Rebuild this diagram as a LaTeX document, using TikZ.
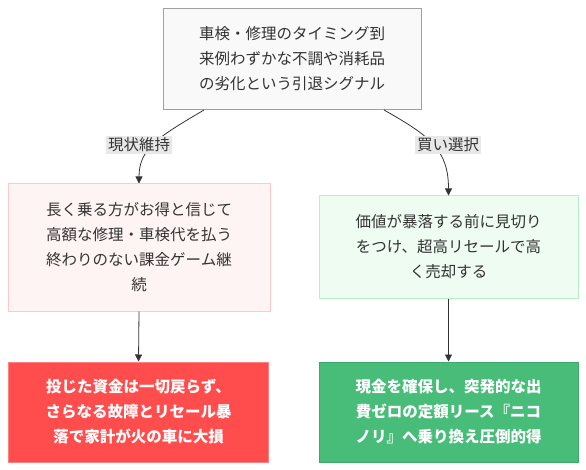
\documentclass[tikz,border=0pt]{standalone}
\usepackage{fontspec}
\setmainfont{Noto Sans CJK JP}
\usetikzlibrary{arrows.meta}
\definecolor{topfill}{HTML}{F9F9F9}
\definecolor{topline}{HTML}{A0A0A0}
\definecolor{pinkfill}{HTML}{FFF4F4}
\definecolor{pinkline}{HTML}{FFC9C9}
\definecolor{greenfill}{HTML}{EEFCF1}
\definecolor{greenline}{HTML}{B9F0C6}
\definecolor{redfill}{HTML}{FF4D4D}
\definecolor{redline}{HTML}{FF8080}
\definecolor{gfill}{HTML}{48BC79}
\definecolor{gline}{HTML}{3FA86B}
\definecolor{edgecol}{HTML}{333333}
\definecolor{txt}{HTML}{333333}
\definecolor{lblfill}{HTML}{E8E8E8}
\tikzset{
  box/.style={draw, line width=1pt, align=center, inner sep=0pt, text=txt,
    font=\fontsize{15.5}{25}\selectfont},
  edge/.style={draw=edgecol, line width=0.8pt, -{Triangle[length=7pt,width=7pt]}},
  lbl/.style={fill=lblfill, text=txt, inner sep=2pt, font=\fontsize{15.5}{18}\selectfont}
}
\begin{document}
\begin{tikzpicture}[x=1pt,y=-1pt]
\useasboundingbox (0,0) rectangle (586,470);
\node[box, fill=topfill, draw=topline, minimum width=258pt, minimum height=101pt] (top) at (292,59)
  {車検・修理のタイミング到\\来例わずかな不調や消耗品\\の劣化という引退シグナル};
\node[box, fill=pinkfill, draw=pinkline, minimum width=262pt, minimum height=127pt] (l1) at (139,247.5)
  {長く乗る方がお得と信じて\\高額な修理・車検代を払う\\終わりのない課金ゲーム継\\続};
\node[box, fill=greenfill, draw=greenline, minimum width=259pt, minimum height=102pt] (r1) at (448.5,247)
  {価値が暴落する前に見切り\\をつけ、超高リセールで高\\く売却する};
\node[box, fill=redfill, draw=redline, text=white, font=\fontsize{15.5}{25}\selectfont\bfseries, minimum width=260pt, minimum height=100pt] (l2) at (138.5,412)
  {投じた資金は一切戻らず、\\さらなる故障とリセール暴\\落で家計が火の車に大損};
\node[box, fill=gfill, draw=gline, text=white, font=\fontsize{15.5}{25}\selectfont\bfseries, minimum width=259pt, minimum height=100pt] (r2) at (448.5,412)
  {現金を確保し、突発的な出\\費ゼロの定額リース『ニコ\\ノリ』へ乗り換え圧倒的得};
\coordinate (tl) at (204,110);
\coordinate (tr) at (384,110);
\draw[edge] (tl) .. controls (160,136) and (139,148) .. (l1.north);
\draw[edge] (tr) .. controls (430,136) and (448.5,150) .. (r1.north);
\node[lbl] (la) at (139,145) {現状維持};
\node[lbl] (lb) at (448,145) {買い選択};
\draw[edge] (l1.south) -- (l2.north);
\draw[edge] (r1.south) -- (r2.north);
\end{tikzpicture}
\end{document}
